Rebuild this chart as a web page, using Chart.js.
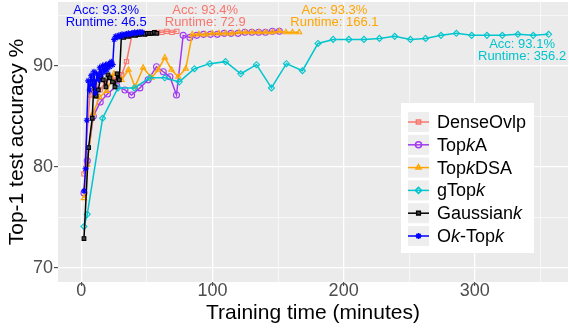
<!DOCTYPE html>
<html lang="en">
<head>
  <meta charset="utf-8">
  <title>Top-1 test accuracy vs training time</title>
  <script src="https://cdn.jsdelivr.net/npm/chart.js@4.4.1/dist/chart.umd.min.js"></script>
  <style>
    html, body { margin: 0; padding: 0; background: #fff; }
  </style>
</head>
<body>
  <canvas id="myChart" width="569" height="329"></canvas>
  <script>
    // series values (x = minutes, y = accuracy %)
    var denseX = [2.1, 6.6, 10.5, 14.5, 18.5, 22.5, 26.5, 30.8, 34.5, 38.8, 42.6, 46.4, 50.2, 54.0, 57.8, 61.5, 65.3, 69.1, 72.9];
    var denseY = [79.3, 87.1, 88.0, 87.6, 88.4, 88.9, 88.6, 89.1, 90.4, 93.1, 93.1, 93.2, 93.2, 93.2, 93.3, 93.3, 93.4, 93.3, 93.4];

    var topkAX = [2.1, 4.6, 9.2, 14.5, 20.0, 27.0, 33.3, 38.4, 44.7, 51.0, 57.4, 62.5, 67.6, 72.6, 77.7, 82.8, 88.0, 93.2, 98.5, 103.7, 109.0, 114.2, 119.5, 124.7, 130.0, 135.2, 140.4, 145.7, 151.0];
    var topkAY = [77.4, 80.6, 85.0, 86.4, 87.2, 88.0, 87.6, 87.1, 87.8, 88.6, 89.9, 89.4, 88.9, 87.1, 93.0, 92.8, 93.0, 93.1, 93.1, 93.1, 93.2, 93.2, 93.2, 93.3, 93.3, 93.3, 93.3, 93.4, 93.4];

    var topkDSAX = [2.1, 4.6, 9.1, 14.0, 19.5, 25.0, 30.8, 36.0, 41.0, 47.2, 53.6, 58.6, 63.7, 68.8, 73.9, 79.7, 84.6, 89.7, 94.8, 99.9, 105.0, 110.1, 115.2, 120.3, 125.4, 130.5, 135.6, 140.7, 145.8, 150.9, 156.0, 161.0, 166.1];
    var topkDSAY = [76.9, 80.2, 85.3, 86.9, 87.5, 89.2, 88.6, 89.6, 87.9, 89.8, 88.8, 89.6, 90.8, 89.6, 88.9, 89.7, 93.1, 93.1, 93.1, 93.2, 93.2, 93.2, 93.2, 93.3, 93.3, 93.3, 93.3, 93.3, 93.3, 93.4, 93.3, 93.3, 93.3];

    var gTopkX = [2.1, 4.6, 16.3, 28.0, 40.5, 52.3, 63.7, 74.7, 86.3, 98.0, 110.0, 121.6, 133.6, 145.0, 156.4, 168.6, 180.5, 192.0, 204.0, 215.5, 227.3, 238.9, 250.9, 262.5, 274.2, 285.9, 297.6, 309.2, 320.9, 332.8, 344.5, 356.2];
    var gTopkY = [74.1, 75.3, 84.8, 87.8, 87.8, 88.8, 88.8, 88.4, 89.7, 90.2, 90.4, 89.2, 90.1, 87.8, 90.2, 89.5, 92.2, 92.6, 92.6, 92.6, 92.7, 92.9, 92.6, 92.7, 93.0, 93.2, 93.0, 93.0, 93.0, 93.1, 93.0, 93.1];

    var gaussX = [2.1, 5.6, 8.4, 9.7, 11.4, 13.0, 14.9, 16.8, 18.8, 20.4, 21.9, 23.8, 25.7, 27.4, 29.0, 30.6, 32.4, 34.2, 36.0, 37.8, 39.6, 41.4, 43.2, 45.0, 46.8, 48.6, 50.4, 52.2, 54.0, 55.8, 57.6];
    var gaussY = [72.9, 81.9, 84.8, 88.4, 87.0, 87.6, 88.9, 88.6, 87.9, 89.1, 88.8, 88.4, 87.9, 89.2, 88.6, 92.9, 92.8, 93.0, 92.9, 93.0, 93.1, 93.0, 93.1, 93.1, 93.2, 93.1, 93.2, 93.2, 93.2, 93.3, 93.2];

    var okX = [2.1, 3.3, 4.3, 5.3, 6.4, 7.5, 8.6, 9.7, 10.8, 11.9, 13.0, 14.1, 15.2, 16.3, 17.4, 18.5, 19.6, 20.7, 21.8, 22.9, 24.0, 25.1, 26.3, 27.5, 28.7, 29.9, 31.1, 32.3, 33.5, 34.7, 35.9, 37.1, 38.3, 39.5, 40.7, 41.9, 43.1, 44.3, 45.4, 46.5];
    var okY = [77.6, 79.8, 84.6, 88.5, 87.6, 89.0, 88.1, 89.4, 87.3, 89.2, 88.6, 89.8, 89.1, 90.0, 89.4, 90.1, 89.6, 90.2, 89.9, 90.4, 90.1, 92.6, 92.9, 92.8, 93.0, 92.9, 93.1, 93.0, 93.1, 93.1, 93.2, 93.1, 93.2, 93.2, 93.3, 93.2, 93.3, 93.3, 93.3, 93.3];

    // legend names, split so the k can be set in italics
    var seriesNames = [
      [['DenseOvlp', 0]],
      [['Top', 0], ['k', 1], ['A', 0]],
      [['Top', 0], ['k', 1], ['DSA', 0]],
      [['gTop', 0], ['k', 1]],
      [['Gaussian', 0], ['k', 1]],
      [['O', 0], ['k', 1], ['-Top', 0], ['k', 1]]
    ];
    var seriesColors = ['#F8766D', '#A23BEE', '#FFA500', '#00C5CD', '#000000', '#0000FF'];
    var seriesStyles = ['rect', 'circle', 'triangle', 'rectRot', 'rect', 'star'];

    var xTicks = [0, 50, 100, 150, 200, 250, 300, 350];
    var yTicks = [70, 75, 80, 85, 90, 95];

    // end-of-run labels: [x, y, line1, line2, colour]
    var endLabels = [
      [19, 94.85, 'Acc: 93.3%', 'Runtime: 46.5', '#0000FF'],
      [94.5, 94.85, 'Acc: 93.4%', 'Runtime: 72.9', '#F8766D'],
      [193, 94.85, 'Acc: 93.3%', 'Runtime: 166.1', '#FFA500'],
      [336, 91.55, 'Acc: 93.1%', 'Runtime: 356.2', '#00C5CD']
    ];

    var allX = [denseX, topkAX, topkDSAX, gTopkX, gaussX, okX];
    var allY = [denseY, topkAY, topkDSAY, gTopkY, gaussY, okY];

    var FONT = "'Liberation Sans', Arial, sans-serif";

    var datasets = [];
    for (var i = 0; i < allX.length; i++) {
      var pts = [];
      for (var j = 0; j < allX[i].length; j++) {
        pts.push({ x: allX[i][j], y: allY[i][j] });
      }
      var fill = 'rgba(0,0,0,0)';
      if (i == 4) fill = '#444';
      datasets.push({
        label: seriesNames[i].map(function (p) { return p[0]; }).join(''),
        data: pts,
        borderColor: seriesColors[i],
        backgroundColor: fill,
        pointBorderColor: seriesColors[i],
        pointBackgroundColor: fill,
        pointStyle: seriesStyles[i],
        pointRadius: i == 4 ? 2.6 : 3,
        pointBorderWidth: 1.1,
        borderWidth: 1.5,
        tension: 0,
        order: allX.length - i
      });
    }

    const panelPlugin = {
      id: 'panel',
      beforeDraw(chart) {
        const a = chart.chartArea;
        const ctx = chart.ctx;
        ctx.save();
        ctx.fillStyle = '#EBEBEB';
        ctx.fillRect(a.left, a.top, a.right - a.left, a.bottom - a.top);
        ctx.restore();
      },
      afterDatasetsDraw(chart) {
        const ctx = chart.ctx;
        const xs = chart.scales.x, ys = chart.scales.y;
        ctx.save();
        // end labels
        ctx.font = '13px ' + FONT;
        ctx.textAlign = 'center';
        ctx.textBaseline = 'middle';
        endLabels.forEach(function (l) {
          const px = xs.getPixelForValue(l[0]);
          const py = ys.getPixelForValue(l[1]);
          ctx.fillStyle = l[4];
          ctx.fillText(l[2], px, py - 6);
          ctx.fillText(l[3], px, py + 6);
        });

        // legend
        const boxL = 401, boxT = 103, boxW = 133, boxH = 150;
        ctx.fillStyle = '#FFFFFF';
        ctx.fillRect(boxL, boxT, boxW, boxH);
        ctx.textAlign = 'left';
        for (let k = 0; k < seriesNames.length; k++) {
          const cy = 122 + k * 22.8;
          ctx.fillStyle = '#EEEEEE';
          ctx.fillRect(408, cy - 10, 21, 20);
          ctx.strokeStyle = seriesColors[k];
          ctx.lineWidth = 1.5;
          ctx.beginPath();
          ctx.moveTo(408, cy);
          ctx.lineTo(429, cy);
          ctx.stroke();
          ctx.fillStyle = k == 4 ? '#444' : 'rgba(0,0,0,0)';
          Chart.helpers.drawPoint(ctx, {
            pointStyle: seriesStyles[k],
            radius: k == 4 ? 2.6 : 3,
            borderWidth: 1.1,
            rotation: 0
          }, 418.5, cy);
          let tx = 437;
          ctx.fillStyle = '#000000';
          seriesNames[k].forEach(function (p) {
            ctx.font = (p[1] ? 'italic ' : '') + '18px ' + FONT;
            ctx.fillText(p[0], tx, cy + 1);
            tx += ctx.measureText(p[0]).width;
          });
        }
        ctx.restore();
      }
    };

    var ctx = document.getElementById('myChart');
    var myChart = new Chart(ctx, {
      type: 'line',
      data: { datasets: datasets },
      options: {
        responsive: false,
        animation: false,
        devicePixelRatio: 1,
        layout: { autoPadding: false, padding: { top: 2, right: 1, left: 0, bottom: 0 } },
        plugins: { legend: { display: false }, tooltip: { enabled: false } },
        scales: {
          x: {
            type: 'linear',
            min: -17.7,
            max: 371,
            afterBuildTicks: function (scale) {
              scale.ticks = xTicks.map(function (v) { return { value: v }; });
            },
            afterFit: function (scale) {
              scale.height = 47;
              scale.paddingLeft = 0;
              scale.paddingRight = 0;
            },
            ticks: {
              autoSkip: false,
              maxRotation: 0,
              padding: -6,
              color: '#4D4D4D',
              font: { family: FONT, size: 18 },
              callback: function (v) { return v % 100 === 0 ? String(v) : ''; }
            },
            grid: {
              color: '#FFFFFF',
              lineWidth: function (c) { return c.tick && c.tick.value % 100 === 0 ? 1.3 : 0.6; },
              tickColor: function (c) { return c.tick && c.tick.value % 100 === 0 ? '#333333' : 'rgba(0,0,0,0)'; },
              tickLength: 4,
              tickWidth: 1
            },
            border: { display: false },
            title: {
              display: true,
              text: 'Training time (minutes)',
              color: '#000000',
              font: { family: FONT, size: 21 },
              padding: { top: 0, bottom: 3 }
            }
          },
          y: {
            type: 'linear',
            min: 68.6,
            max: 96.3,
            afterBuildTicks: function (scale) {
              scale.ticks = yTicks.map(function (v) { return { value: v }; });
            },
            afterFit: function (scale) {
              scale.width = 58;
              scale.paddingTop = 0;
              scale.paddingBottom = 0;
            },
            ticks: {
              autoSkip: false,
              padding: 1,
              color: '#4D4D4D',
              font: { family: FONT, size: 18 },
              callback: function (v) { return v % 10 === 0 ? String(v) : ''; }
            },
            grid: {
              color: '#FFFFFF',
              lineWidth: function (c) { return c.tick && c.tick.value % 10 === 0 ? 1.3 : 0.6; },
              tickColor: function (c) { return c.tick && c.tick.value % 10 === 0 ? '#333333' : 'rgba(0,0,0,0)'; },
              tickLength: 4,
              tickWidth: 1
            },
            border: { display: false },
            title: {
              display: true,
              text: 'Top-1 test accuracy %',
              color: '#000000',
              font: { family: FONT, size: 21 },
              padding: { top: 5, bottom: 0 }
            }
          }
        }
      },
      plugins: [panelPlugin]
    });
  </script>
</body>
</html>
